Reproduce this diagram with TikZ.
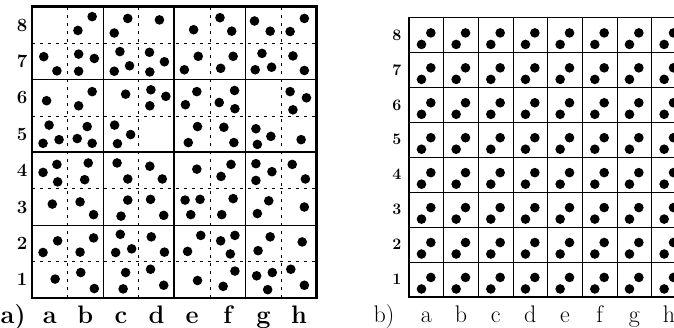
\documentclass[tikz,border=0pt]{standalone}
\usepackage{tikz}

\begin{document}
\begin{tikzpicture}[x=0.75pt,y=0.75pt,
  punto/.style={fill=black},
  rejilla/.style={line width=0.5pt,dash pattern=on 2pt off 4pt},
  filaA/.style={font=\fontsize{14}{15}\selectfont\bfseries},
  columnaA/.style={anchor=base,font=\fontsize{19}{20}\selectfont\bfseries},
  filaB/.style={font=\fontsize{12}{13}\selectfont\bfseries},
  columnaB/.style={anchor=base,font=\fontsize{18}{19}\selectfont}]
  \useasboundingbox (0,0) rectangle (674,328);
  \clip (0,0) rectangle (674,328);
  % tablero a)
  \begin{scope}[shift={(32,30)},x=26.7pt,y=27.3pt]
    \foreach \i in {1,3,5,7} {
      \draw[rejilla] (\i,0)--(\i,8);
      \draw[rejilla] (0,\i)--(8,\i);
    }
    \draw[line width=0.8pt] (2,0)--(2,8) (6,0)--(6,8) (0,2)--(8,2) (0,6)--(8,6);
    \draw[line width=1.5pt] (4,0)--(4,8) (0,4)--(8,4);
    \draw[line width=2pt] (0,0) rectangle (8,8);
    % piezas
    \foreach \x/\y in {1.69/7.73,1.29/7.35,2.31/7.28,2.69/7.68,3.58/7.64,4.54/7.37,
      5.28/7.70,5.61/7.33,6.25/7.61,6.69/7.33,7.65/7.68,7.25/7.32,
      0.33/6.63,0.70/6.24,1.31/6.70,1.75/6.58,1.31/6.23,2.47/6.77,2.74/6.38,2.31/6.23,
      3.30/6.75,3.72/6.49,3.31/6.21,4.67/6.64,4.28/6.27,5.65/6.64,5.30/6.31,
      6.46/6.72,6.73/6.34,6.27/6.27,7.33/6.65,7.65/6.25,
      0.41/5.42,1.69/5.67,1.31/5.28,2.63/5.60,3.34/5.72,3.76/5.54,3.31/5.28,
      4.63/5.67,4.31/5.31,5.69/5.70,5.26/5.37,5.70/5.20,7.25/5.67,7.71/5.50,7.33/5.17,
      0.48/4.75,0.31/4.25,0.76/4.35,1.55/4.71,1.27/4.38,1.69/4.25,2.32/4.75,2.77/4.49,2.40/4.24,
      4.65/4.71,4.39/4.27,5.39/4.69,5.67/4.27,6.29/4.65,6.71/4.44,6.33/4.22,7.56/4.35,
      0.31/3.45,0.70/3.67,0.72/3.19,1.58/3.71,1.48/3.25,2.39/3.71,2.69/3.27,3.31/3.62,3.66/3.27,
      4.63/3.54,5.59/3.67,5.31/3.34,6.29/3.69,6.74/3.47,6.29/3.23,7.31/3.67,7.68/3.27,
      0.57/2.58,1.35/2.64,1.73/2.29,2.69/2.69,2.50/2.25,3.33/2.71,3.70/2.27,
      4.30/2.69,4.72/2.71,4.46/2.29,5.65/2.73,5.33/2.29,6.65/2.67,6.33/2.32,7.65/2.50,
      0.72/1.57,0.31/1.25,1.73/1.65,1.35/1.26,2.48/1.75,2.80/1.35,2.35/1.25,3.35/1.68,3.72/1.26,
      4.74/1.72,4.37/1.28,5.30/1.57,5.70/1.72,5.57/1.21,6.69/1.68,6.35/1.30,7.59/1.54,
      0.65/0.52,1.37/0.70,1.75/0.26,2.63/0.70,2.56/0.25,3.33/0.79,3.70/0.35,
      4.65/0.48,5.70/0.74,5.37/0.32,6.31/0.61,6.75/0.70,6.62/0.23,7.27/0.79,7.65/0.35}
      \fill[punto] (\x,\y) circle[radius=3.6pt];
    % coordenadas
    \foreach \r in {1,...,8} \node[filaA] (A\r) at (-0.28,\r-0.5) {\r};
    \foreach \c/\l in {0/a,1/b,2/c,3/d,4/e,5/f,6/g,7/h}
      \node[columnaA] (A\l) at (\c+0.5,-0.69) {\l};
    \node[columnaA] (tituloA) at (-0.53,-0.69) {a)};
  \end{scope}
  % tablero b)
  \begin{scope}[shift={(409,31)},x=26.0pt,y=26.2pt]
    \foreach \i in {1,...,7} {
      \draw[line width=0.7pt] (\i,0)--(\i,8);
      \draw[line width=0.7pt] (0,\i)--(8,\i);
    }
    \draw[line width=0.9pt] (0,0) rectangle (8,8);
    \foreach \i in {0,...,7}
      \foreach \j in {0,...,7} {
        \fill[punto] (\i+0.36,\j+0.23) circle[radius=3.6pt];
        \fill[punto] (\i+0.63,\j+0.56) circle[radius=3.6pt];
      }
    \foreach \r in {1,...,8} \node[filaB] (B\r) at (-0.35,\r-0.5) {\r};
    \foreach \c/\l in {0/a,1/b,2/c,3/d,4/e,5/f,6/g,7/h}
      \node[columnaB] (B\l) at (\c+0.5,-0.72) {\l};
    \node[columnaB] (tituloB) at (-0.72,-0.72) {b)};
  \end{scope}
\end{tikzpicture}
\end{document}
